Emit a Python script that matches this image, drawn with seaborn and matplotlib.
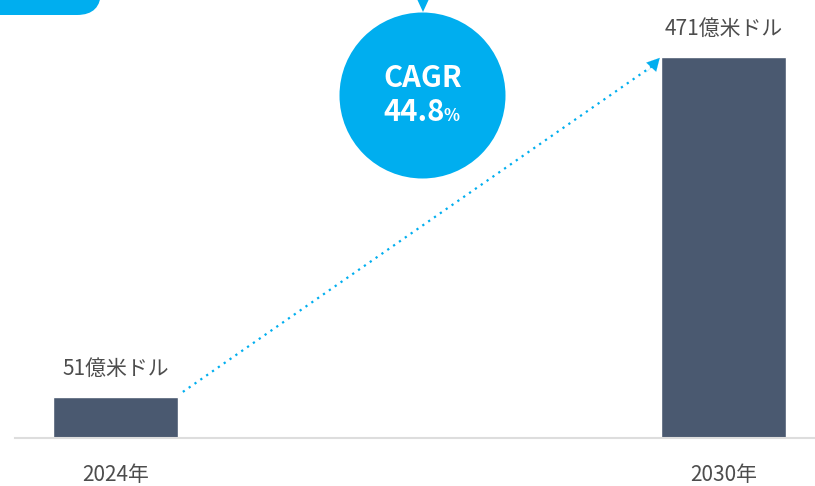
import matplotlib
matplotlib.use("Agg")
import matplotlib.pyplot as plt
import seaborn as sns
import pandas as pd
from matplotlib.patches import Circle, Polygon, FancyBboxPatch

# Market size (100 million USD)
years = ["2024年", "2030年"]
values = [51, 471]
value_labels = ["51億米ドル", "471億米ドル"]
cagr_title = "CAGR"
cagr_value = "44.8"
cagr_unit = "%"

BAR_COLOR = "#4a5970"
ACCENT = "#00aeef"
TEXT_COLOR = "#4d4d4d"
BAR_WIDTH = 0.2056

sns.set_theme(style="white")
plt.rcParams["font.family"] = ["Noto Sans CJK JP", "DejaVu Sans"]

W, H = 815, 486
fig = plt.figure(figsize=(W / 100, H / 100), dpi=100)

# Main bar axes: baseline near the bottom, wide margins around the two bars
ax = fig.add_axes([15 / W, 48 / H, 800 / W, 438 / H])
df = pd.DataFrame({"year": years, "value": values})
sns.barplot(data=df, x="year", y="value", color=BAR_COLOR, width=BAR_WIDTH,
            saturation=1, ax=ax)
ax.set_xlim(-0.1653, 1.1505)
ax.set_ylim(0, 541.5)
ax.set_xlabel("")
ax.set_ylabel("")
ax.set_yticks([])
for s in ["top", "left", "right"]:
    ax.spines[s].set_visible(False)
ax.spines["bottom"].set_color("#dddddd")
ax.spines["bottom"].set_linewidth(1.5)
ax.tick_params(axis="x", length=0, pad=18.5, labelsize=15, labelcolor=TEXT_COLOR)

# Value labels above the bars
for i, (v, lab) in enumerate(zip(values, value_labels)):
    ax.annotate(lab, xy=(i, v), xytext=(0, 20), textcoords="offset points",
                ha="center", va="center", fontsize=15, color=TEXT_COLOR)

# Dotted growth line from the first bar to the second, with an arrowhead
half_w = BAR_WIDTH / 2
x0, y0 = 0 + half_w + 0.008, values[0] + 6
x1, y1 = 1 - half_w - 0.002, values[1] - 1
ax.plot([x0, x1 - 0.012], [y0, y1 - 10], color=ACCENT, lw=1.6,
        linestyle=(0, (1, 2.2)), solid_capstyle="butt", dash_capstyle="butt")
ax.annotate("", xy=(x1, y1), xytext=(x1 - 0.022, y1 - 18),
            arrowprops=dict(arrowstyle="-|>,head_length=0.75,head_width=0.4",
                            color=ACCENT, lw=0.1, shrinkA=0, shrinkB=0))

# Overlay in pixel coordinates for the CAGR badge and header shapes
ov = fig.add_axes([0, 0, 1, 1])
ov.set_xlim(0, W)
ov.set_ylim(H, 0)
ov.axis("off")
ov.patch.set_alpha(0)

ov.add_patch(FancyBboxPatch((-40, -40), 141, 55,
                            boxstyle="round,pad=0,rounding_size=24",
                            facecolor=ACCENT, edgecolor="none"))
ov.add_patch(Polygon([[417, -1], [429, -1], [423, 12]], closed=True,
                     facecolor=ACCENT, edgecolor="none"))
ov.add_patch(Circle((422.5, 95.5), 83, facecolor=ACCENT, edgecolor="none"))

ov.text(422.5, 78, cagr_title, ha="center", va="center", color="white",
        fontsize=21, fontweight="bold")
ov.text(445, 112, cagr_value, ha="right", va="center", color="white",
        fontsize=21, fontweight="bold")
ov.text(444, 116, cagr_unit, ha="left", va="center", color="white",
        fontsize=12, fontweight="bold")

fig.savefig("out.png", dpi=100)
